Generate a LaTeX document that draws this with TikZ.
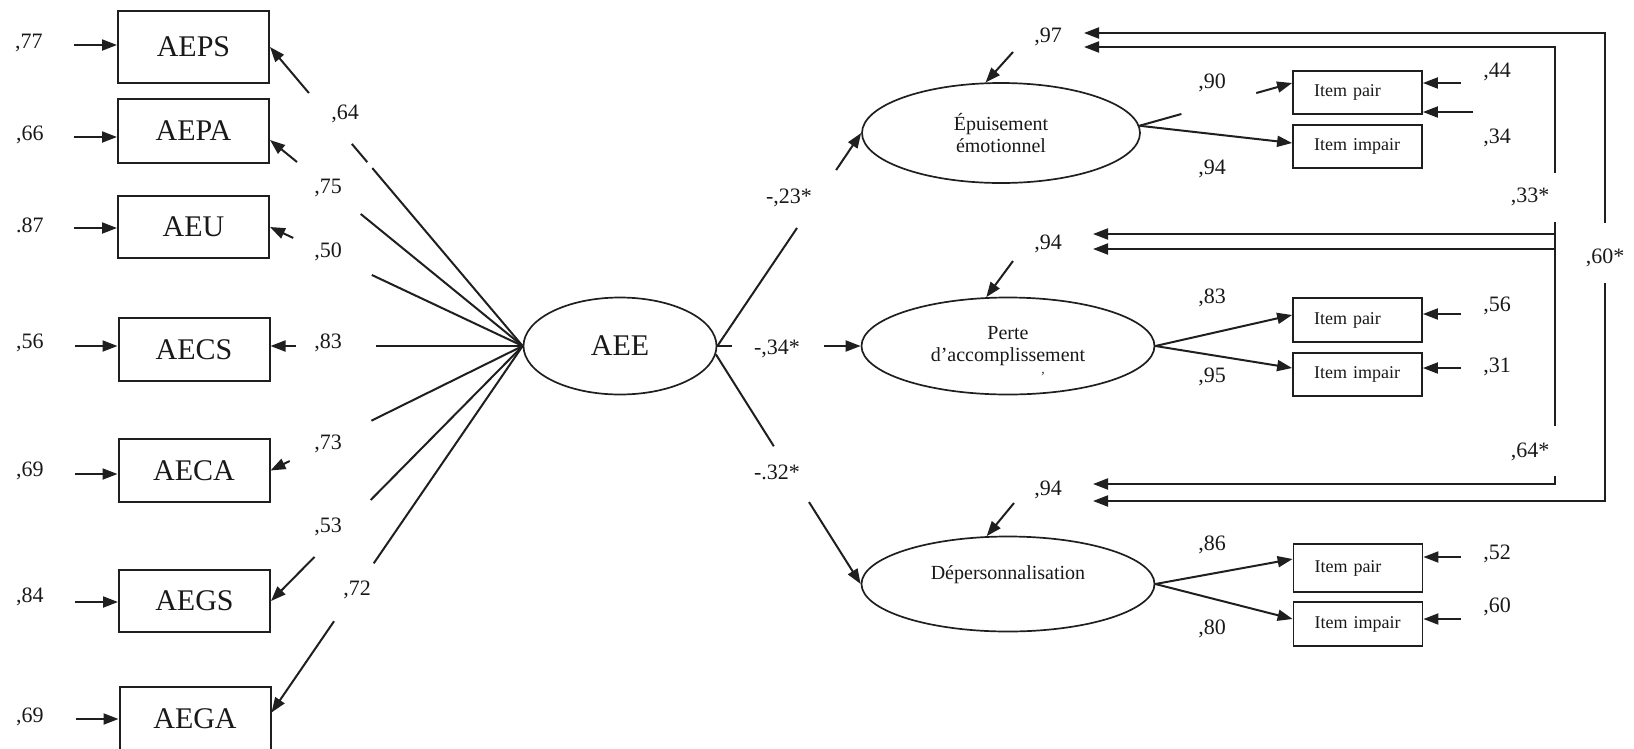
\documentclass[tikz,border=0pt]{standalone}
\usepackage{fontspec}
\setmainfont{Liberation Serif}
\usetikzlibrary{arrows.meta,shapes.geometric,calc}
\newcommand{\brokenln}[4]{%
  \draw[ln] (#1) -- ($(#1)!#3!(#2)$);
  \draw[ln,arr] ($(#1)!#4!(#2)$) -- (#2);}
\begin{document}
\begin{tikzpicture}[x=1pt,y=-1pt,
  ln/.style={line width=2pt, draw=black!88},
  arr/.style={-{Triangle[length=15pt,width=11pt]}},
  rarr/.style={{Triangle[length=15pt,width=11pt]}-},
  obs/.style={draw=black!88, line width=2pt, rectangle, minimum width=151pt, inner sep=0pt, text=black!90, font=\fontsize{30}{34}\selectfont},
  lat/.style={draw=black!88, line width=1.7pt, ellipse, inner sep=0pt, align=center, text=black!90, font=\fontsize{20}{22}\selectfont},
  item/.style={draw=black!88, line width=1.8pt, rectangle, minimum width=129pt, text width=87pt, inner xsep=21pt, inner ysep=0pt, align=left, text=black!90, font=\fontsize{18}{20}\selectfont},
  coef/.style={inner sep=1pt, text=black!90, font=\fontsize{22}{24}\selectfont},
]
\useasboundingbox (0,0) rectangle (1634,748);

% observed boxes (left)
\node[obs, minimum height=72pt] (AEPS) at (193.5,47) {AEPS};
\node[obs, minimum height=64pt] (AEPA) at (193.5,131) {AEPA};
\node[obs, minimum height=62pt] (AEU) at (193.5,227) {AEU};
\node[obs, minimum height=63pt] (AECS) at (194,349.5) {AECS};
\node[obs, minimum height=63pt] (AECA) at (194,470.5) {AECA};
\node[obs, minimum height=62pt] (AEGS) at (194.5,601) {AEGS};
\node[obs, minimum height=63pt] (AEGA) at (195,718.5) {AEGA};

% latent variables
\node[lat, minimum width=193pt, minimum height=97pt, font=\fontsize{30}{34}\selectfont] (AEE) at (620,346) {AEE};
\node[lat, minimum width=278pt, minimum height=100pt] (EPU) at (1001,133) {Épuisement\\émotionnel};
\node[lat, minimum width=293pt, minimum height=97pt] (PER) at (1008,346) {Perte\\d'accomplissement};
\node[lat, minimum width=293pt, minimum height=95pt] (DEP) at (1008,584) {Dépersonnalisation\\\mbox{}};
\node[inner sep=0pt, text=black!80, font=\fontsize{14}{14}\selectfont] (stray) at (1043,377) {'};

% item boxes (right)
\node[item, minimum height=43pt] (EP1) at (1357.5,92.5) {Item pair};
\node[item, minimum height=43pt] (EI1) at (1357.5,146.5) {Item impair};
\node[item, minimum height=44pt] (PP) at (1357.5,320) {Item pair};
\node[item, minimum height=43pt] (PI) at (1357.5,374.5) {Item impair};
\node[item, minimum height=48pt] (DP) at (1358,568) {Item pair};
\node[item, minimum height=44pt] (DI) at (1358,624) {Item impair};

% error terms of left boxes
\node[coef] (e77) at (29,43) {,77};
\node[coef] (e66) at (30,135) {,66};
\node[coef] (e87) at (30,225) {.87};
\node[coef] (e56) at (30,343) {,56};
\node[coef] (e69a) at (30,471) {,69};
\node[coef] (e84) at (30,597) {,84};
\node[coef] (e69b) at (30,717) {,69};
\coordinate (s77) at (74,45);
\coordinate (s66) at (74,137);
\coordinate (s87) at (74,228);
\coordinate (s56) at (75,346);
\coordinate (s69a) at (75,474);
\coordinate (s84) at (75,602);
\coordinate (s69b) at (76,719);
\draw[ln,arr] (s77) -- (s77 -| AEPS.west);
\draw[ln,arr] (s66) -- (s66 -| AEPA.west);
\draw[ln,arr] (s87) -- (s87 -| AEU.west);
\draw[ln,arr] (s56) -- (s56 -| AECS.west);
\draw[ln,arr] (s69a) -- (s69a -| AECA.west);
\draw[ln,arr] (s84) -- (s84 -| AEGS.west);
\draw[ln,arr] (s69b) -- (s69b -| AEGA.west);

% loadings AEE -> boxes
\coordinate (tPS) at (AEPS.east);
\coordinate (tPA) at ([yshift=-9pt]AEPA.east);
\coordinate (tU) at (AEU.east);
\coordinate (tCS) at (AEE.west -| AECS.east);
\coordinate (tCA) at (AECA.east);
\coordinate (tGS) at (AEGS.east);
\coordinate (tGA) at ([yshift=6pt]AEGA.east);
\brokenln{AEE.west}{tPS}{0.595}{0.846}
\draw[ln] ($(AEE.west)!0.615!(tPS)$) -- ($(AEE.west)!0.676!(tPS)$);
\brokenln{AEE.west}{tPA}{0.641}{0.893}
\brokenln{AEE.west}{tU}{0.597}{0.908}
\brokenln{AEE.west}{tCS}{0.582}{0.898}
\brokenln{AEE.west}{tCA}{0.60}{0.924}
\brokenln{AEE.west}{tGS}{0.604}{0.827}
\brokenln{AEE.west}{tGA}{0.593}{0.751}
\node[coef] (l64) at (345,114) {,64};
\node[coef] (l75) at (328,188) {,75};
\node[coef] (l50) at (328,252) {,50};
\node[coef] (l83) at (328,343) {,83};
\node[coef] (l73) at (328,444) {,73};
\node[coef] (l53) at (328,527) {,53};
\node[coef] (l72) at (357,590) {,72};

% structural paths
\brokenln{AEE.east}{EPU.west}{0.554}{0.826}
\brokenln{AEE.east}{PER.west}{0.10}{0.745}
\coordinate (sD) at (AEE.-5);
\brokenln{sD}{DEP.west}{0.40}{0.643}
\node[coef] (s23) at (789,198) {-,23*};
\node[coef] (s34) at (777,349) {-,34*};
\node[coef] (s32) at (777,472) {-.32*};

% disturbances
\node[coef] (d97) at (1048,37) {,97};
\node[coef] (d94a) at (1048,244) {,94};
\node[coef] (d94b) at (1048,490) {,94};
\coordinate (u1) at (1013,52);
\coordinate (u2) at (1013,261);
\coordinate (u3) at (1014,503);
\draw[ln,arr] (u1) -- (EPU.107);
\draw[ln,arr] (u2) -- (PER.114);
\draw[ln,arr] (u3) -- (DEP.114);

% loadings to items
\coordinate (tEP1) at ([yshift=9.5pt]EP1.west);
\coordinate (tEI1) at ([yshift=3.5pt]EI1.west);
\coordinate (sE) at (EPU.3);
\brokenln{sE}{tEP1}{0.275}{0.765}
\draw[ln,arr] (sE) -- (tEI1);
\draw[ln,arr] (PER.east) -- ([yshift=5pt]PP.west);
\draw[ln,arr] (PER.east) -- ([yshift=6.5pt]PI.west);
\draw[ln,arr] (DEP.east) -- ([yshift=9pt]DP.west);
\draw[ln,arr] (DEP.east) -- ([yshift=5pt]DI.west);
\node[coef] (c90) at (1212,83) {,90};
\node[coef] (c94) at (1212,169) {,94};
\node[coef] (c83) at (1212,298) {,83};
\node[coef] (c95) at (1212,377) {,95};
\node[coef] (c86) at (1212,545) {,86};
\node[coef] (c80) at (1212,629) {,80};

% item errors
\node[coef] (r44) at (1497,72) {,44};
\node[coef] (r34) at (1497,138) {,34};
\node[coef] (r56) at (1497,306) {,56};
\node[coef] (r31) at (1497,367) {,31};
\node[coef] (r52) at (1497,554) {,52};
\node[coef] (r60) at (1497,607) {,60};
\coordinate (q44) at (1461,83);
\coordinate (q34) at (1473,112);
\coordinate (q56) at (1461,314);
\coordinate (q31) at (1461,368);
\coordinate (q52) at (1461,557);
\coordinate (q60) at (1461,619);
\draw[ln,arr] (q44) -- (q44 -| EP1.east);
\draw[ln,arr] (q34) -- (q34 -| EP1.east);
\draw[ln,arr] (q56) -- (q56 -| PP.east);
\draw[ln,arr] (q31) -- (q31 -| PI.east);
\draw[ln,arr] (q52) -- (q52 -| DP.east);
\draw[ln,arr] (q60) -- (q60 -| DI.east);

% correlations between disturbances
\coordinate (k97a) at (1084,33);
\coordinate (k97b) at (1084,47);
\coordinate (k94a) at (1093,234);
\coordinate (k94b) at (1093,249);
\coordinate (k94c) at (1093,484);
\coordinate (k94d) at (1093,501);
\coordinate (g60a) at (1605,223);
\coordinate (g60b) at (1605,283);
\coordinate (g33a) at (1555,173);
\coordinate (g33b) at (1555,222);
\coordinate (g64a) at (1555,426);
\coordinate (g64b) at (1555,476);
\draw[ln,rarr] (k97a) -| (g60a);
\draw[ln,arr] (g60b) |- (k94d);
\draw[ln,rarr] (k97b) -| (g33a);
\draw[ln,arr] (g33b) |- (k94a);
\draw[ln] (g33b) -- (g64a);
\draw[ln,rarr] (k94b) -| (g64a);
\draw[ln,arr] (g64b) |- (k94c);
\node[coef] (k33) at (1530,197) {,33*};
\node[coef] (k60) at (1605,258) {,60*};
\node[coef] (k64) at (1530,452) {,64*};
\end{tikzpicture}
\end{document}
